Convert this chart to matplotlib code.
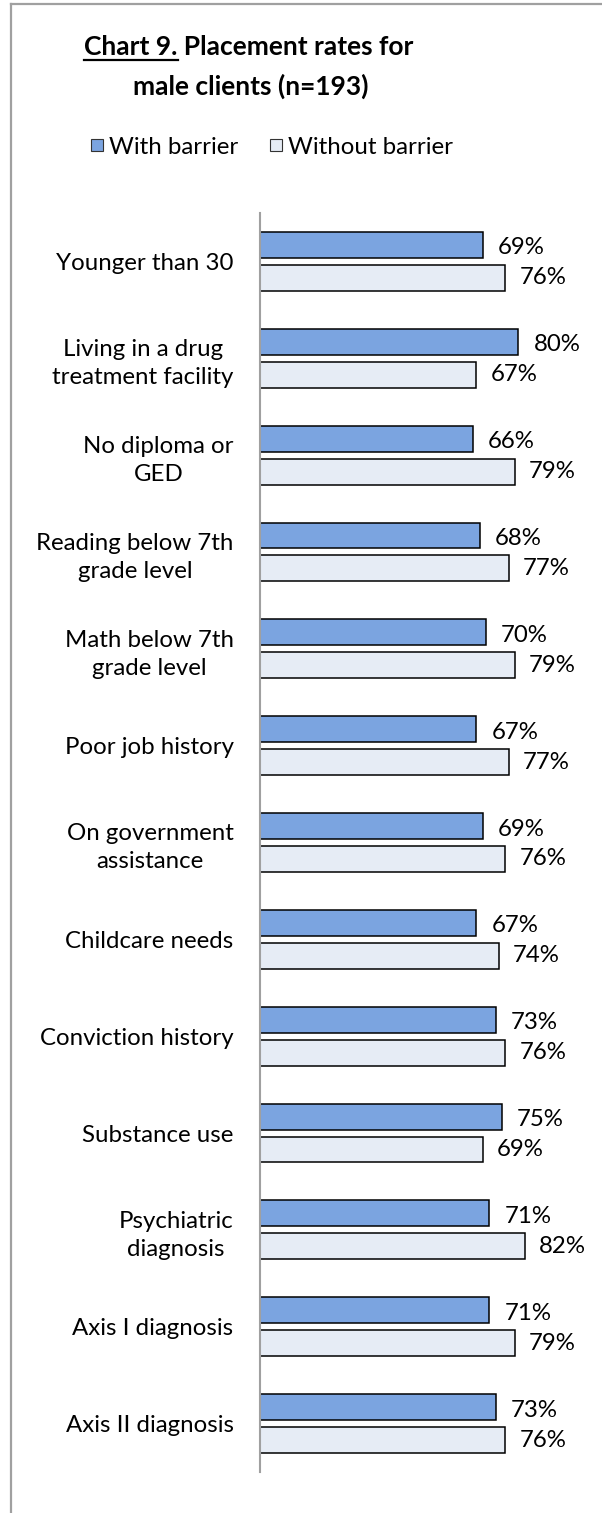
import numpy as np
import matplotlib
matplotlib.use("Agg")
import matplotlib.pyplot as plt
from matplotlib.patches import Patch
from matplotlib.lines import Line2D

plt.rcParams['font.family'] = ['Lato', 'DejaVu Sans']

categories = [
    "Younger than 30",
    "Living in a drug\ntreatment facility",
    "No diploma or\nGED",
    "Reading below 7th\ngrade level",
    "Math below 7th\ngrade level",
    "Poor job history",
    "On government\nassistance",
    "Childcare needs",
    "Conviction history",
    "Substance use",
    "Psychiatric\ndiagnosis",
    "Axis I diagnosis",
    "Axis II diagnosis",
]
with_barrier = [69, 80, 66, 68, 70, 67, 69, 67, 73, 75, 71, 71, 73]
without_barrier = [76, 67, 79, 77, 79, 77, 76, 74, 76, 69, 82, 79, 76]
series_names = ["With barrier", "Without barrier"]

col_with = "#7ba4e0"
col_without = "#e6ecf5"
fs = 17.3

W, H = 602, 1513
fig = plt.figure(figsize=(W / 100, H / 100), dpi=100)

# plot area in pixel units
ax = fig.add_axes([260 / W, 1 - 1472 / H, 323 / W, (1472 - 213) / H])

y = np.arange(len(categories))
bh = 0.268
off = 0.17
ax.barh(y - off, np.array(with_barrier) / 100, height=bh, color=col_with,
        edgecolor="black", linewidth=1.1)
ax.barh(y + off, np.array(without_barrier) / 100, height=bh, color=col_without,
        edgecolor="black", linewidth=1.1)

for i in range(len(categories)):
    ax.annotate(f"{with_barrier[i]}%", (with_barrier[i] / 100, y[i] - off),
                xytext=(15, -3), textcoords="offset pixels", va="center",
                ha="left", fontsize=fs)
    ax.annotate(f"{without_barrier[i]}%", (without_barrier[i] / 100, y[i] + off),
                xytext=(14, 0), textcoords="offset pixels", va="center",
                ha="left", fontsize=fs)

ax.set_xlim(0, 1.0)
ax.set_ylim(12.5, -0.5)
ax.set_yticks(y)
ax.set_yticklabels(categories, fontsize=fs, multialignment="center",
                   linespacing=1.4)
ax.tick_params(axis="y", length=0, pad=19)
ax.set_xticks([])
for s in ["top", "right", "bottom"]:
    ax.spines[s].set_visible(False)
ax.spines["left"].set_color("#a0a0a0")
ax.spines["left"].set_linewidth(1.5)

# title, first part underlined
t1 = fig.text(249 / W, 1 - 55 / H, "Chart 9. Placement rates for",
              ha="center", va="baseline", fontsize=19, fontweight="bold")
fig.text(251 / W, 1 - 95 / H, "male clients (n=193)",
         ha="center", va="baseline", fontsize=19, fontweight="bold")
fig.canvas.draw()
r = fig.canvas.get_renderer()
bb = t1.get_window_extent(r)
probe = fig.text(0, 0, "Chart 9.", fontsize=19, fontweight="bold")
pw = probe.get_window_extent(r).width
probe.remove()
uy = 1 - 59.5 / H
fig.add_artist(Line2D([bb.x0 / W, (bb.x0 + pw) / W], [uy, uy],
                      color="black", lw=1.6, transform=fig.transFigure))

handles = [Patch(facecolor=col_with, edgecolor="#333333", linewidth=0.8),
           Patch(facecolor=col_without, edgecolor="#333333", linewidth=0.8)]
fig.legend(handles, series_names, loc="center", bbox_to_anchor=(272 / W, 1 - 147 / H),
           ncol=2, frameon=False, fontsize=fs, handlelength=0.5, handleheight=0.39,
           handletextpad=0.25, columnspacing=1.3)

# outer chart border (top and left)
fig.add_artist(Line2D([11 / W, 1], [1 - 4 / H, 1 - 4 / H], color="#a0a0a0",
                      lw=1.6, transform=fig.transFigure))
fig.add_artist(Line2D([11 / W, 11 / W], [0, 1 - 4 / H], color="#a0a0a0",
                      lw=1.6, transform=fig.transFigure))

fig.savefig("out.png", dpi=100)
